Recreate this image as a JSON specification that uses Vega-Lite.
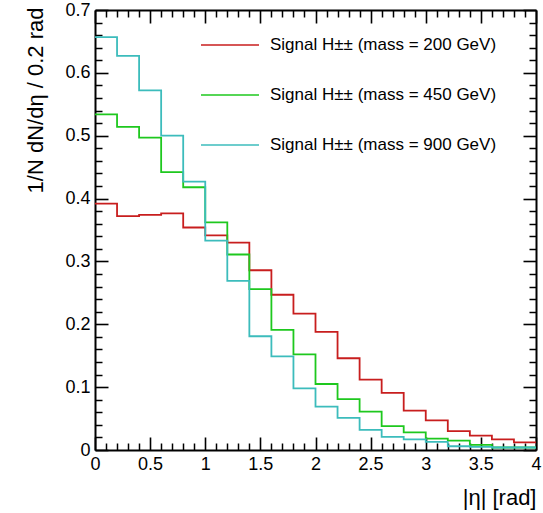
{
  "$schema": "https://vega.github.io/schema/vega-lite/v6.json",
  "width": 441,
  "height": 440,
  "autosize": "none",
  "padding": {"left": 95, "top": 10, "right": 7, "bottom": 63},
  "background": "white",
  "config": {
    "view": {"stroke": null},
    "font": "Liberation Sans",
    "axis": {"labelFont": "Liberation Sans", "titleFont": "Liberation Sans", "labelColor": "black", "titleColor": "black", "domainColor": "black", "tickColor": "black", "tickOpacity": 1, "titleFontWeight": "normal", "labelOverlap": false, "labelFlush": false, "labelBound": false}
  },
  "datasets": {
    "h": [
      {"s": "Signal H±± (mass = 200 GeV)", "eta": 0.0, "v": 0.392},
      {"s": "Signal H±± (mass = 200 GeV)", "eta": 0.2, "v": 0.372},
      {"s": "Signal H±± (mass = 200 GeV)", "eta": 0.4, "v": 0.374},
      {"s": "Signal H±± (mass = 200 GeV)", "eta": 0.6, "v": 0.3765},
      {"s": "Signal H±± (mass = 200 GeV)", "eta": 0.8, "v": 0.354},
      {"s": "Signal H±± (mass = 200 GeV)", "eta": 1.0, "v": 0.3415},
      {"s": "Signal H±± (mass = 200 GeV)", "eta": 1.2, "v": 0.330},
      {"s": "Signal H±± (mass = 200 GeV)", "eta": 1.4, "v": 0.286},
      {"s": "Signal H±± (mass = 200 GeV)", "eta": 1.6, "v": 0.247},
      {"s": "Signal H±± (mass = 200 GeV)", "eta": 1.8, "v": 0.217},
      {"s": "Signal H±± (mass = 200 GeV)", "eta": 2.0, "v": 0.188},
      {"s": "Signal H±± (mass = 200 GeV)", "eta": 2.2, "v": 0.146},
      {"s": "Signal H±± (mass = 200 GeV)", "eta": 2.4, "v": 0.112},
      {"s": "Signal H±± (mass = 200 GeV)", "eta": 2.6, "v": 0.091},
      {"s": "Signal H±± (mass = 200 GeV)", "eta": 2.8, "v": 0.0625},
      {"s": "Signal H±± (mass = 200 GeV)", "eta": 3.0, "v": 0.047},
      {"s": "Signal H±± (mass = 200 GeV)", "eta": 3.2, "v": 0.030},
      {"s": "Signal H±± (mass = 200 GeV)", "eta": 3.4, "v": 0.023},
      {"s": "Signal H±± (mass = 200 GeV)", "eta": 3.6, "v": 0.017},
      {"s": "Signal H±± (mass = 200 GeV)", "eta": 3.8, "v": 0.012},
      {"s": "Signal H±± (mass = 200 GeV)", "eta": 4.0, "v": 0.012},
      {"s": "Signal H±± (mass = 450 GeV)", "eta": 0.0, "v": 0.534},
      {"s": "Signal H±± (mass = 450 GeV)", "eta": 0.2, "v": 0.514},
      {"s": "Signal H±± (mass = 450 GeV)", "eta": 0.4, "v": 0.497},
      {"s": "Signal H±± (mass = 450 GeV)", "eta": 0.6, "v": 0.442},
      {"s": "Signal H±± (mass = 450 GeV)", "eta": 0.8, "v": 0.418},
      {"s": "Signal H±± (mass = 450 GeV)", "eta": 1.0, "v": 0.362},
      {"s": "Signal H±± (mass = 450 GeV)", "eta": 1.2, "v": 0.311},
      {"s": "Signal H±± (mass = 450 GeV)", "eta": 1.4, "v": 0.256},
      {"s": "Signal H±± (mass = 450 GeV)", "eta": 1.6, "v": 0.191},
      {"s": "Signal H±± (mass = 450 GeV)", "eta": 1.8, "v": 0.152},
      {"s": "Signal H±± (mass = 450 GeV)", "eta": 2.0, "v": 0.105},
      {"s": "Signal H±± (mass = 450 GeV)", "eta": 2.2, "v": 0.081},
      {"s": "Signal H±± (mass = 450 GeV)", "eta": 2.4, "v": 0.061},
      {"s": "Signal H±± (mass = 450 GeV)", "eta": 2.6, "v": 0.038},
      {"s": "Signal H±± (mass = 450 GeV)", "eta": 2.8, "v": 0.028},
      {"s": "Signal H±± (mass = 450 GeV)", "eta": 3.0, "v": 0.018},
      {"s": "Signal H±± (mass = 450 GeV)", "eta": 3.2, "v": 0.015},
      {"s": "Signal H±± (mass = 450 GeV)", "eta": 3.4, "v": 0.008},
      {"s": "Signal H±± (mass = 450 GeV)", "eta": 3.6, "v": 0.004},
      {"s": "Signal H±± (mass = 450 GeV)", "eta": 3.8, "v": 0.004},
      {"s": "Signal H±± (mass = 450 GeV)", "eta": 4.0, "v": 0.004},
      {"s": "Signal H±± (mass = 900 GeV)", "eta": 0.0, "v": 0.657},
      {"s": "Signal H±± (mass = 900 GeV)", "eta": 0.2, "v": 0.627},
      {"s": "Signal H±± (mass = 900 GeV)", "eta": 0.4, "v": 0.572},
      {"s": "Signal H±± (mass = 900 GeV)", "eta": 0.6, "v": 0.500},
      {"s": "Signal H±± (mass = 900 GeV)", "eta": 0.8, "v": 0.427},
      {"s": "Signal H±± (mass = 900 GeV)", "eta": 1.0, "v": 0.333},
      {"s": "Signal H±± (mass = 900 GeV)", "eta": 1.2, "v": 0.269},
      {"s": "Signal H±± (mass = 900 GeV)", "eta": 1.4, "v": 0.181},
      {"s": "Signal H±± (mass = 900 GeV)", "eta": 1.6, "v": 0.149},
      {"s": "Signal H±± (mass = 900 GeV)", "eta": 1.8, "v": 0.098},
      {"s": "Signal H±± (mass = 900 GeV)", "eta": 2.0, "v": 0.069},
      {"s": "Signal H±± (mass = 900 GeV)", "eta": 2.2, "v": 0.051},
      {"s": "Signal H±± (mass = 900 GeV)", "eta": 2.4, "v": 0.032},
      {"s": "Signal H±± (mass = 900 GeV)", "eta": 2.6, "v": 0.021},
      {"s": "Signal H±± (mass = 900 GeV)", "eta": 2.8, "v": 0.017},
      {"s": "Signal H±± (mass = 900 GeV)", "eta": 3.0, "v": 0.013},
      {"s": "Signal H±± (mass = 900 GeV)", "eta": 3.2, "v": 0.006},
      {"s": "Signal H±± (mass = 900 GeV)", "eta": 3.4, "v": 0.005},
      {"s": "Signal H±± (mass = 900 GeV)", "eta": 3.6, "v": 0.004},
      {"s": "Signal H±± (mass = 900 GeV)", "eta": 3.8, "v": 0.004},
      {"s": "Signal H±± (mass = 900 GeV)", "eta": 4.0, "v": 0.004}
    ]
  },
  "data": {"name": "h"},
  "resolve": {"axis": {"x": "independent", "y": "independent"}},
  "layer": [
    {
      "mark": {"type": "line", "interpolate": "step-after", "strokeWidth": 1.8},
      "encoding": {
        "x": {"field": "eta", "type": "quantitative", "scale": {"domain": [0, 4], "nice": false, "zero": false},
          "axis": {"orient": "bottom", "values": [0, 0.5, 1, 1.5, 2, 2.5, 3, 3.5, 4], "format": "~g", "ticks": false, "grid": false, "domain": true, "domainWidth": 2, "labelFontSize": 18, "labelPadding": 5,
            "title": "|η| [rad]", "titleFontSize": 22, "titleX": 441, "titleY": 54, "titleAlign": "right", "titleBaseline": "alphabetic", "titleAnchor": null}},
        "y": {"field": "v", "type": "quantitative", "scale": {"domain": [0, 0.7], "nice": false, "zero": true},
          "axis": {"orient": "left", "values": [0, 0.1, 0.2, 0.3, 0.4, 0.5, 0.6, 0.7], "format": "~g", "ticks": false, "grid": false, "domain": true, "domainWidth": 2, "labelFontSize": 18, "labelPadding": 5,
            "title": "1/N dN/dη / 0.2 rad", "titleFontSize": 22, "titleAngle": -90, "titleX": -60, "titleY": -3, "titleAlign": "right", "titleBaseline": "middle"}},
        "color": {"field": "s", "type": "nominal",
          "scale": {"domain": ["Signal H±± (mass = 200 GeV)", "Signal H±± (mass = 450 GeV)", "Signal H±± (mass = 900 GeV)"], "range": ["#c81e1e", "#1ec81e", "#3cbcbc"]},
          "legend": {"orient": "none", "legendX": 105, "legendY": 5, "title": null, "symbolType": "stroke", "symbolSize": 3364, "symbolStrokeWidth": 1.5, "rowPadding": 12, "labelFontSize": 17, "labelFont": "Liberation Sans", "labelColor": "black", "labelOffset": 10, "labelLimit": 400}}
      }
    },
    {
      "mark": {"type": "line", "opacity": 0},
      "encoding": {
        "x": {"field": "eta", "type": "quantitative", "axis": {"orient": "bottom", "offset": -13, "values": [0, 0.5, 1, 1.5, 2, 2.5, 3, 3.5, 4], "ticks": true, "tickSize": 13, "tickWidth": 1.6, "labels": false, "domain": false, "grid": false, "title": null}},
        "y": {"field": "v", "type": "quantitative", "axis": {"orient": "left", "offset": -13, "values": [0, 0.1, 0.2, 0.3, 0.4, 0.5, 0.6, 0.7], "ticks": true, "tickSize": 13, "tickWidth": 1.6, "labels": false, "domain": false, "grid": false, "title": null}},
        "detail": {"field": "s"}
      }
    },
    {
      "mark": {"type": "line", "opacity": 0},
      "encoding": {
        "x": {"field": "eta", "type": "quantitative", "axis": {"orient": "bottom", "offset": -7, "values": [0.1, 0.2, 0.3, 0.4, 0.6, 0.7, 0.8, 0.9, 1.1, 1.2, 1.3, 1.4, 1.6, 1.7, 1.8, 1.9, 2.1, 2.2, 2.3, 2.4, 2.6, 2.7, 2.8, 2.9, 3.1, 3.2, 3.3, 3.4, 3.6, 3.7, 3.8, 3.9], "ticks": true, "tickSize": 7, "tickWidth": 1.5, "labels": false, "domain": false, "grid": false, "title": null}},
        "y": {"field": "v", "type": "quantitative", "axis": {"orient": "left", "offset": -7, "values": [0.02, 0.04, 0.06, 0.08, 0.12, 0.14, 0.16, 0.18, 0.22, 0.24, 0.26, 0.28, 0.32, 0.34, 0.36, 0.38, 0.42, 0.44, 0.46, 0.48, 0.52, 0.54, 0.56, 0.58, 0.62, 0.64, 0.66, 0.68], "ticks": true, "tickSize": 7, "tickWidth": 1.5, "labels": false, "domain": false, "grid": false, "title": null}},
        "detail": {"field": "s"}
      }
    },
    {
      "mark": {"type": "line", "opacity": 0},
      "encoding": {
        "x": {"field": "eta", "type": "quantitative", "axis": {"orient": "bottom", "offset": -440, "values": [0, 0.5, 1, 1.5, 2, 2.5, 3, 3.5, 4], "ticks": true, "tickSize": 13, "tickWidth": 1.6, "labels": false, "domain": false, "grid": false, "title": null}},
        "y": {"field": "v", "type": "quantitative", "axis": {"orient": "left", "offset": -441, "values": [0, 0.1, 0.2, 0.3, 0.4, 0.5, 0.6, 0.7], "ticks": true, "tickSize": 13, "tickWidth": 1.6, "labels": false, "domain": false, "grid": false, "title": null}},
        "detail": {"field": "s"}
      }
    },
    {
      "mark": {"type": "line", "opacity": 0},
      "encoding": {
        "x": {"field": "eta", "type": "quantitative", "axis": {"orient": "bottom", "offset": -440, "values": [0.1, 0.2, 0.3, 0.4, 0.6, 0.7, 0.8, 0.9, 1.1, 1.2, 1.3, 1.4, 1.6, 1.7, 1.8, 1.9, 2.1, 2.2, 2.3, 2.4, 2.6, 2.7, 2.8, 2.9, 3.1, 3.2, 3.3, 3.4, 3.6, 3.7, 3.8, 3.9], "ticks": true, "tickSize": 7, "tickWidth": 1.5, "labels": false, "domain": false, "grid": false, "title": null}},
        "y": {"field": "v", "type": "quantitative", "axis": {"orient": "left", "offset": -441, "values": [0.02, 0.04, 0.06, 0.08, 0.12, 0.14, 0.16, 0.18, 0.22, 0.24, 0.26, 0.28, 0.32, 0.34, 0.36, 0.38, 0.42, 0.44, 0.46, 0.48, 0.52, 0.54, 0.56, 0.58, 0.62, 0.64, 0.66, 0.68], "ticks": true, "tickSize": 7, "tickWidth": 1.5, "labels": false, "domain": false, "grid": false, "title": null}},
        "detail": {"field": "s"}
      }
    },
    {
      "mark": {"type": "line", "opacity": 0},
      "encoding": {
        "x": {"field": "eta", "type": "quantitative", "axis": {"orient": "top", "values": [], "ticks": false, "labels": false, "domain": true, "domainWidth": 2, "grid": false, "title": null}},
        "y": {"field": "v", "type": "quantitative", "axis": {"orient": "right", "values": [], "ticks": false, "labels": false, "domain": true, "domainWidth": 2, "grid": false, "title": null}},
        "detail": {"field": "s"}
      }
    }
  ]
}
